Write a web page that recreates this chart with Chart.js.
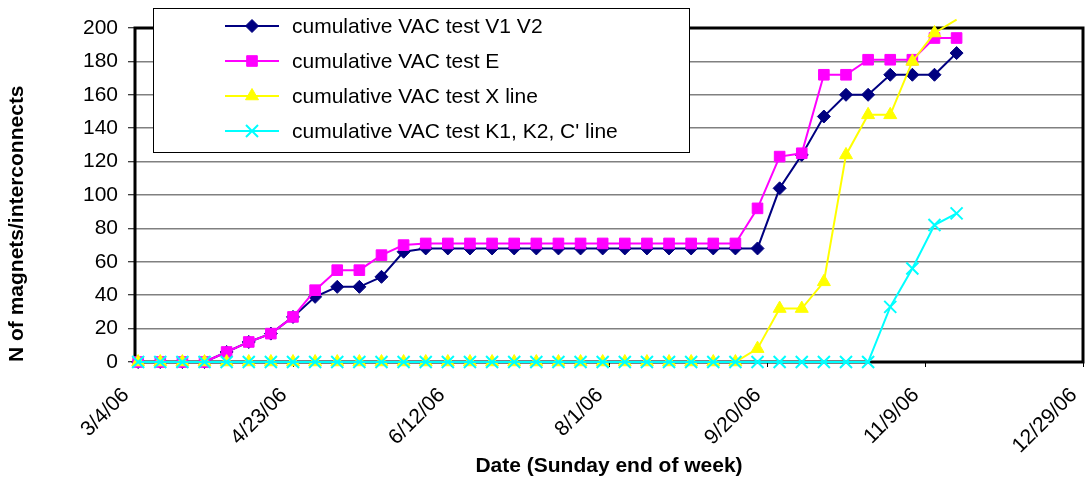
<!DOCTYPE html>
<html>
<head>
<meta charset="utf-8">
<script src="https://cdn.jsdelivr.net/npm/chart.js@4.4.0/dist/chart.umd.min.js"></script>
<style>
  html, body { margin: 0; padding: 0; background: #fff; }
  #wrap { width: 1085px; height: 483px; }
</style>
</head>
<body>
<div id="wrap"><canvas id="vacChart"></canvas></div>
<script>
// weekly points, Sunday end of week
const weekEnds = [
  '3/5/06', '3/12/06', '3/19/06', '3/26/06', '4/2/06', '4/9/06', '4/16/06', '4/23/06',
  '4/30/06', '5/7/06', '5/14/06', '5/21/06', '5/28/06', '6/4/06', '6/11/06', '6/18/06',
  '6/25/06', '7/2/06', '7/9/06', '7/16/06', '7/23/06', '7/30/06', '8/6/06', '8/13/06',
  '8/20/06', '8/27/06', '9/3/06', '9/10/06', '9/17/06', '9/24/06', '10/1/06', '10/8/06',
  '10/15/06', '10/22/06', '10/29/06', '11/5/06', '11/12/06', '11/19/06',
];

const vacV1V2 = [
  0, 0, 0, 0, 6, 12, 17, 27, 39, 45, 45, 51, 66, 68,
  68, 68, 68, 68, 68, 68, 68, 68, 68, 68, 68, 68, 68, 68, 68,
  104, 124, 147, 160, 160, 172, 172, 172, 185,
];
const vacE = [
  0, 0, 0, 0, 6, 12, 17, 27, 43, 55, 55, 64, 70, 71,
  71, 71, 71, 71, 71, 71, 71, 71, 71, 71, 71, 71, 71, 71,
  92, 123, 125, 172, 172, 181, 181, 181, 194, 194,
];
const vacX = [
  0, 0, 0, 0, 0, 0, 0, 0, 0, 0, 0, 0, 0, 0,
  0, 0, 0, 0, 0, 0, 0, 0, 0, 0, 0, 0, 0, 0,
  8, 32, 32, 48, 124, 148, 148, 180, 197, 205,
];
const vacK = [
  0, 0, 0, 0, 0, 0, 0, 0, 0, 0, 0, 0, 0, 0,
  0, 0, 0, 0, 0, 0, 0, 0, 0, 0, 0, 0, 0, 0,
  0, 0, 0, 0, 0, 0, 33, 56, 82, 89,
];

const seriesNames = [
  'cumulative VAC test V1 V2',
  'cumulative VAC test E',
  'cumulative VAC test X line',
  "cumulative VAC test K1, K2, C' line",
];

const tickDates = ['3/4/06', '4/23/06', '6/12/06', '8/1/06', '9/20/06', '11/9/06', '12/29/06'];
const yMax = 200;

function toDay(s) {
  const [m, d, y] = s.split('/').map(Number);
  return Date.UTC(2000 + y, m - 1, d) / 864e5;
}

function points(values) {
  return values.map((v, i) => ({ x: toDay(weekEnds[i]), y: v }));
}

const FONT = 'Liberation Sans, Arial, sans-serif';

const plotFrame = {
  id: 'plotFrame',
  beforeDatasetsDraw(chart) {
    const { ctx, chartArea: { left, top, right, bottom } } = chart;
    ctx.save();
    ctx.strokeStyle = '#000';
    ctx.lineWidth = 3;
    ctx.strokeRect(left, top, right - left, bottom - top);
    ctx.restore();
  },
};

const boxLegend = {
  id: 'boxLegend',
  afterDraw(chart, args, opts) {
    const ctx = chart.ctx;
    ctx.save();
    ctx.fillStyle = '#fff';
    ctx.fillRect(opts.x, opts.y, opts.w, opts.h);
    ctx.strokeStyle = '#000';
    ctx.lineWidth = 1;
    ctx.strokeRect(opts.x + 0.5, opts.y + 0.5, opts.w, opts.h);
    ctx.font = opts.font;
    ctx.textBaseline = 'middle';
    chart.data.datasets.forEach((ds, i) => {
      const cy = opts.y + opts.firstRow + i * opts.rowGap;
      const x0 = opts.x + opts.lineStart;
      const x1 = x0 + opts.lineLen;
      ctx.strokeStyle = ds.borderColor;
      ctx.lineWidth = ds.borderWidth;
      ctx.beginPath();
      ctx.moveTo(x0, cy);
      ctx.lineTo(x1, cy);
      ctx.stroke();
      ctx.fillStyle = ds.pointBackgroundColor;
      ctx.strokeStyle = ds.pointBorderColor;
      ctx.lineWidth = ds.pointBorderWidth;
      Chart.helpers.drawPoint(ctx, {
        pointStyle: ds.pointStyle,
        radius: ds.legendRadius,
        borderWidth: ds.pointBorderWidth,
        rotation: 0,
      }, (x0 + x1) / 2, cy);
      ctx.fillStyle = '#000';
      ctx.fillText(ds.label, opts.x + opts.textStart, cy + 1);
    });
    ctx.restore();
  },
};

function series(label, values, color, style, radius, order) {
  return {
    label: label,
    data: points(values),
    borderColor: color,
    backgroundColor: color,
    borderWidth: 2,
    pointStyle: style,
    pointBackgroundColor: color,
    pointBorderColor: color,
    pointBorderWidth: style === 'crossRot' ? 2 : 1,
    pointRadius: (ctx) => (ctx.raw && ctx.raw.y > yMax ? 0 : radius),
    legendRadius: radius,
    order: order,
    clip: false,
    tension: 0,
  };
}

const config = {
  type: 'line',
  data: {
    datasets: [
      series(seriesNames[0], vacV1V2, '#000080', 'rectRot', 6.5, 4),
      series(seriesNames[1], vacE, '#ff00ff', 'rect', 7.5, 3),
      series(seriesNames[2], vacX, '#ffff00', 'triangle', 7.5, 2),
      series(seriesNames[3], vacK, '#00ffff', 'crossRot', 8.5, 1),
    ],
  },
  options: {
    responsive: true,
    maintainAspectRatio: false,
    animation: false,
    layout: { autoPadding: false, padding: { top: 28, right: 2, left: 0, bottom: 0 } },
    plugins: {
      legend: { display: false },
      tooltip: { enabled: false },
      boxLegend: {
        x: 153, y: 8, w: 536, h: 144,
        firstRow: 18, rowGap: 35,
        lineStart: 72, lineLen: 54, textStart: 139,
        font: '21px ' + FONT,
      },
    },
    scales: {
      x: {
        type: 'linear',
        min: toDay(tickDates[0]),
        max: toDay(tickDates[tickDates.length - 1]),
        afterBuildTicks: (scale) => {
          scale.ticks = tickDates.map((s) => ({ value: toDay(s) }));
        },
        afterFit: (scale) => {
          scale.height = 121;
          scale.paddingLeft = 0;
          scale.paddingRight = 0;
        },
        border: { display: false },
        grid: { drawOnChartArea: false, drawTicks: true, tickLength: 5, tickColor: '#000' },
        ticks: {
          autoSkip: false,
          minRotation: 45,
          maxRotation: 45,
          padding: 16,
          labelOffset: -9,
          color: '#000',
          font: { family: FONT, size: 21 },
          callback: (value) => {
            const hit = tickDates.find((s) => toDay(s) === value);
            return hit || '';
          },
        },
        title: {
          display: true,
          text: 'Date (Sunday end of week)',
          color: '#000',
          font: { family: FONT, size: 21, weight: 'bold' },
          padding: { top: 4, bottom: 4 },
        },
      },
      y: {
        min: 0,
        max: yMax,
        afterFit: (scale) => { scale.width = 135; },
        border: { display: false },
        grid: { color: '#808080', lineWidth: 1.5, tickLength: 7, tickColor: '#000', tickWidth: 1 },
        ticks: {
          stepSize: 20,
          padding: 10,
          color: '#000',
          font: { family: FONT, size: 21 },
        },
        title: {
          display: true,
          text: 'N of magnets/interconnects',
          align: 'start',
          color: '#000',
          font: { family: FONT, size: 21, weight: 'bold' },
          padding: { top: 5, bottom: 4 },
        },
      },
    },
  },
  plugins: [plotFrame, boxLegend],
};

const vacChart = new Chart(document.getElementById('vacChart'), config);
</script>
</body>
</html>
